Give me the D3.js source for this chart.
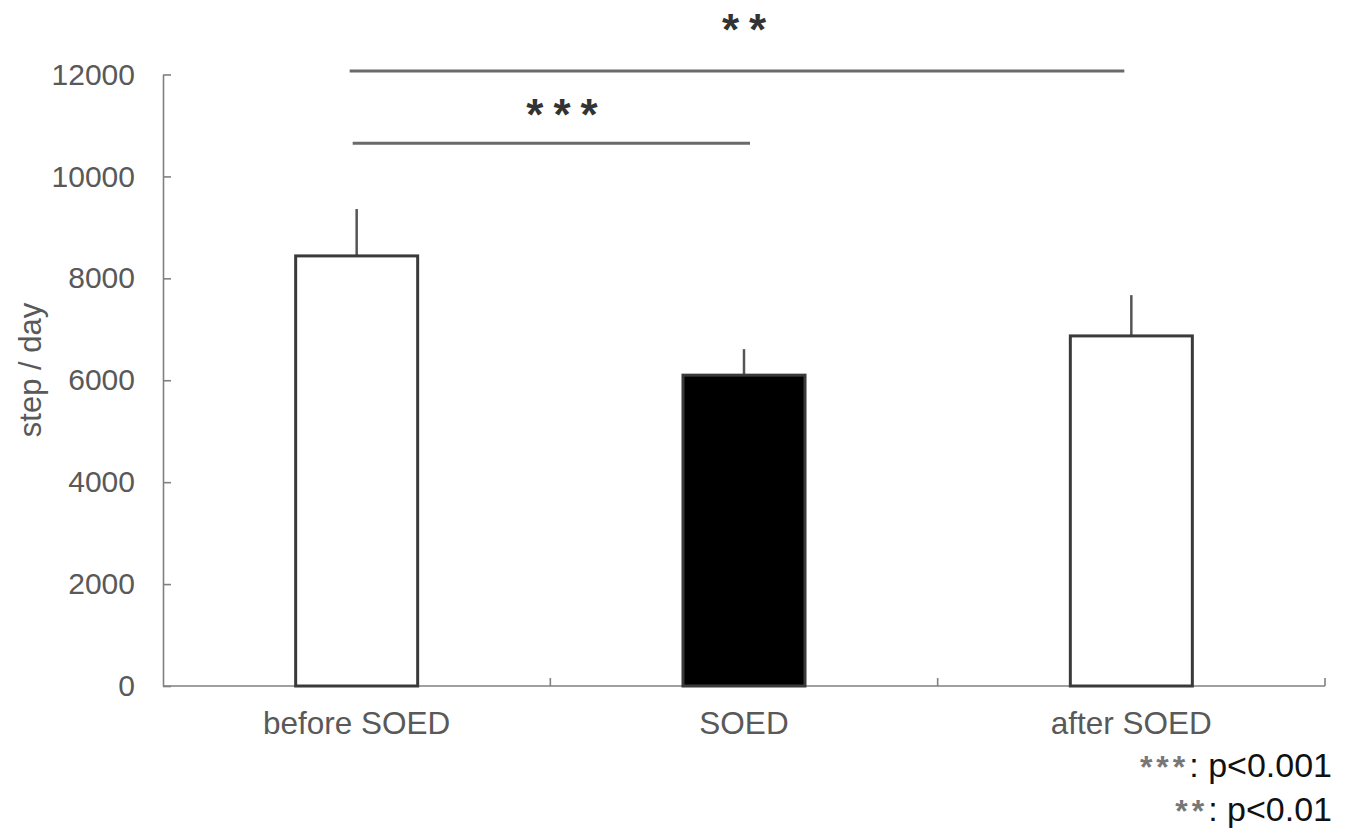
<!DOCTYPE html>
<html>
<head>
<meta charset="utf-8">
<script src="https://cdn.jsdelivr.net/npm/d3@7"></script>
<style>
  body { margin: 0; padding: 0; background: #fff; }
  text { font-family: "Liberation Sans", Arial, sans-serif; }
</style>
</head>
<body>
<script>
// data
const categories = ["before SOED", "SOED", "after SOED"]
const means = [8440, 6100, 6870]
const errors = [920, 510, 800]
const fills = ["#fff", "#000", "#fff"]
const yTicks = [0, 2000, 4000, 6000, 8000, 10000, 12000]
// significance brackets: from / to category index, level in steps/day
const sigFrom = [0, 0]
const sigTo = [1, 2]
const sigLevel = [10650, 12070]
const sigLabel = ["***", "**"]
const legendStars = ["***", "**"]
const legendText = [": p<0.001", ": p<0.01"]

const width = 1349
const height = 834
const margin = {left: 163, right: 24, top: 74, bottom: 148}

const svg = d3.select("body").append("svg")
  .attr("width", width)
  .attr("height", height)

const x = d3.scaleBand()
  .domain(categories)
  .range([margin.left, width - margin.right])
  .paddingInner(0.685)
  .paddingOuter(0.3425)

const y = d3.scaleLinear()
  .domain([0, 12000])
  .range([height - margin.bottom, margin.top + 0.5])

// y axis, ticks pointing inward
const yAxis = svg.append("g")
  .attr("transform", `translate(${margin.left},0)`)
  .call(d3.axisLeft(y).tickValues(yTicks).tickSize(-8).tickPadding(28).tickSizeOuter(0).tickFormat(d3.format("d")))
yAxis.select(".domain").attr("stroke", "#808080").attr("stroke-width", 1.6)
yAxis.selectAll(".tick line").attr("stroke", "#808080").attr("stroke-width", 1.6)
yAxis.selectAll(".tick text").attr("fill", "#595959").attr("font-size", 30)
  .attr("font-family", "Liberation Sans, Arial, sans-serif")

// x axis line and separating ticks
const y0 = y(0)
svg.append("line")
  .attr("x1", margin.left).attr("x2", width - margin.right)
  .attr("y1", y0).attr("y2", y0)
  .attr("stroke", "#808080").attr("stroke-width", 1.6)

const step = x.step()
svg.append("g").selectAll("line")
  .data(categories)
  .join("line")
  .attr("x1", (d, i) => margin.left + step * (i + 1))
  .attr("x2", (d, i) => margin.left + step * (i + 1))
  .attr("y1", y0).attr("y2", y0 - 8)
  .attr("stroke", "#808080").attr("stroke-width", 1.6)

svg.append("g").selectAll("text")
  .data(categories)
  .join("text")
  .attr("x", d => x(d) + x.bandwidth() / 2)
  .attr("y", y0 + 48)
  .attr("text-anchor", "middle")
  .attr("fill", "#595959")
  .attr("font-size", 31.5)
  .text(d => d)

// error bars (upper only), drawn under the bars
svg.append("g").selectAll("line")
  .data(categories)
  .join("line")
  .attr("x1", d => x(d) + x.bandwidth() / 2)
  .attr("x2", d => x(d) + x.bandwidth() / 2)
  .attr("y1", (d, i) => y(means[i]))
  .attr("y2", (d, i) => y(means[i] + errors[i]))
  .attr("stroke", "#555")
  .attr("stroke-width", 2.5)

// bars
svg.append("g").selectAll("rect")
  .data(categories)
  .join("rect")
  .attr("x", d => x(d))
  .attr("width", x.bandwidth())
  .attr("y", (d, i) => y(means[i]))
  .attr("height", (d, i) => y0 - y(means[i]))
  .attr("fill", (d, i) => fills[i])
  .attr("stroke", "#3a3a3a")
  .attr("stroke-width", 3)

// significance lines
const centre = i => x(categories[i]) + x.bandwidth() / 2
const nudgeL = [-4, -7]
const nudgeR = [6, -7]
svg.append("g").selectAll("line")
  .data(sigLevel)
  .join("line")
  .attr("x1", (d, i) => centre(sigFrom[i]) + nudgeL[i])
  .attr("x2", (d, i) => centre(sigTo[i]) + nudgeR[i])
  .attr("y1", d => y(d))
  .attr("y2", d => y(d))
  .attr("stroke", "#6a6a6a")
  .attr("stroke-width", 3)

// star labels above the lines
const liftY = [13, 26]
svg.append("g").selectAll("text")
  .data(sigLabel)
  .join("text")
  .attr("x", (d, i) => i === 0 ? 567 : 749)
  .attr("y", (d, i) => y(sigLevel[i]) - liftY[i])
  .attr("text-anchor", "middle")
  .attr("fill", "#333")
  .attr("font-size", 44)
  .attr("font-weight", "bold")
  .attr("letter-spacing", 10)
  .text(d => d)

// y label
svg.append("text")
  .attr("transform", `translate(41,370) rotate(-90)`)
  .attr("text-anchor", "middle")
  .attr("fill", "#595959")
  .attr("font-size", 31)
  .text("step / day")

// p-value note
const note = svg.append("g").selectAll("text")
  .data(legendText)
  .join("text")
  .attr("x", 1332)
  .attr("y", (d, i) => 777 + i * 44)
  .attr("text-anchor", "end")
  .attr("font-size", 34)
note.append("tspan")
  .attr("fill", "#777")
  .attr("font-size", 32)
  .attr("font-weight", "bold")
  .attr("letter-spacing", 4)
  .attr("dy", 1)
  .text((d, i) => legendStars[i])
note.append("tspan")
  .attr("fill", "#111")
  .attr("dy", -1)
  .text(d => d)
</script>
</body>
</html>
